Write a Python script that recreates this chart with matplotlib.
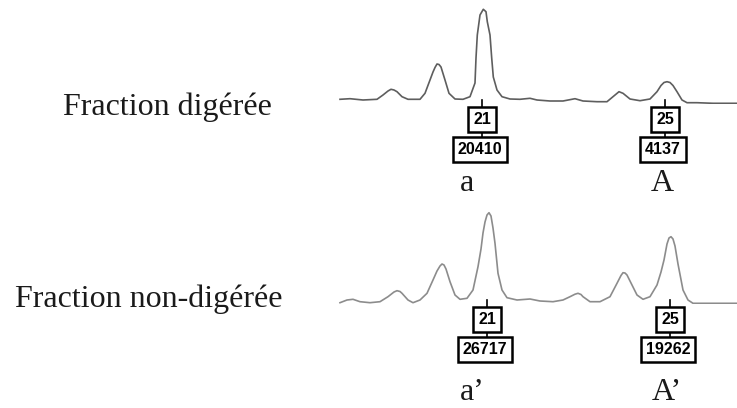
import numpy as np
import matplotlib
matplotlib.use('Agg')
import matplotlib.pyplot as plt

# ------------------------------------------------------------------------------
# Data
# ------------------------------------------------------------------------------
# digested fraction: retention position / signal (arbitrary units)
dig_rt = [340, 350, 363, 377, 383, 388, 391, 394, 397, 402, 408, 420, 425, 430,
          433, 435, 437, 439, 441, 445, 449, 455, 463, 470, 475, 476, 477.3, 480,
          483.3, 486, 487.3, 490, 491.7, 493.3, 497, 502, 510, 520, 530, 537,
          550, 563, 575, 583, 597, 607, 613, 619, 623, 630, 640, 650, 657, 661,
          664, 667, 670, 673, 677, 682, 687, 697, 713, 737]
dig_sig = [4.7, 5.3, 4.0, 4.7, 9.0, 13.0, 14.7, 14.0, 12.3, 7.3, 4.7, 4.7, 10.7, 24.0,
           32.0, 36.5, 40.0, 39.5, 37.0, 24.0, 10.7, 5.0, 4.7, 7.3, 21.0, 46.0, 69.0, 89.0,
           94.7, 92.3, 82.3, 69.0, 46.0, 27.0, 14.0, 7.3, 5.0, 4.7, 5.7, 4.0,
           3.0, 3.0, 5.3, 3.0, 2.3, 2.3, 7.3, 12.3, 10.7, 5.0, 3.3, 5.0, 12.3, 18.5,
           21.5, 22.3, 21.5, 18.5, 12.3, 4.0, 1.3, 1.3, 0.7, 0.7]

# non-digested fraction
nondig_rt = [340, 347, 353, 360, 370, 380, 388, 394, 397, 400, 402, 408, 413, 420,
             427, 433, 437, 440, 442, 444, 446, 450, 455, 460, 467, 473, 478, 481,
             483, 485, 487, 489, 491, 493, 495, 498, 502, 507, 517, 530, 540, 553,
             563, 570, 575, 578, 581, 583, 590, 600, 610, 617, 621, 623, 625, 627,
             632, 637, 643, 650, 657, 661, 664, 667, 669, 671, 673, 675, 678, 683,
             688, 693, 713, 737]
nondig_sig = [1.3, 4.0, 4.7, 2.3, 1.3, 2.3, 7.3, 12.0, 13.3, 12.5, 10.7, 4.0, 1.3, 4.0,
              10.7, 24.0, 33.0, 38.0, 40.0, 39.0, 35.0, 22.3, 9.0, 4.7, 5.7, 14.0, 37.3, 55.0,
              71.0, 82.0, 89.0, 91.3, 88.0, 76.0, 60.7, 30.7, 14.0, 6.3, 4.0, 5.0, 3.0, 2.3,
              4.0, 7.3, 9.8, 10.7, 9.5, 7.3, 2.3, 2.3, 7.3, 20.7, 28.5, 31.3, 31.0, 29.0,
              19.0, 9.0, 4.7, 7.3, 19.0, 32.0, 44.0, 60.0, 66.0, 67.3, 65.0, 58.0, 40.0, 14.0,
              4.0, 0.7, 0.7, 0.7]

# integrated peaks: peak number and area
peak_rt_dig = [482, 665]
peak_rt_nondig = [487, 670]
peak_ids = ['21', '25']
areas_dig = [20410, 4137]
areas_nondig = [26717, 19262]
names_dig = ['a', 'A']
names_nondig = ['a\u2019', 'A\u2019']
fraction_labels = ['Fraction digérée', 'Fraction non-digérée']

# ------------------------------------------------------------------------------
# Figure
# ------------------------------------------------------------------------------
W, H = 737, 408
fig = plt.figure(figsize=(W / 100, H / 100), dpi=100)
fig.patch.set_facecolor('white')

# trace axes (pixel rows 0-104 and 200-304)
ax_top = fig.add_axes([0, 1 - 104 / H, 1, 104 / H])
ax_bot = fig.add_axes([0, 1 - 304 / H, 1, 104 / H])
for ax, rt, sig, col in [(ax_top, dig_rt, dig_sig, '#5e5e5e'),
                         (ax_bot, nondig_rt, nondig_sig, '#8c8c8c')]:
    ax.plot(rt, sig, color=col, linewidth=1.2, solid_joinstyle='round')
    ax.set_xlim(0, W)
    ax.set_ylim(0, 104)
    ax.axis('off')

# overlay for labels, in pixel coordinates
ov = fig.add_axes([0, 0, 1, 1])
ov.set_xlim(0, W)
ov.set_ylim(H, 0)
ov.axis('off')

serif = ['Liberation Serif', 'DejaVu Serif']
ov.text(63, 115, fraction_labels[0], fontsize=23, family=serif, va='baseline', ha='left', color='#1a1a1a')
ov.text(15, 307, fraction_labels[1], fontsize=23, family=serif, va='baseline', ha='left', color='#1a1a1a')

box_kw = dict(boxstyle='square,pad=0.3', facecolor='white', edgecolor='black', linewidth=1.8)


def label_peaks(rts, ids, areas, names, base_y, name_y):
    for rt, pid, area, name in zip(rts, ids, areas, names):
        # stems between trace, id box and area box
        ov.plot([rt, rt], [base_y, base_y + 8], color='black', linewidth=1.2)
        ov.plot([rt, rt], [base_y + 30, base_y + 37], color='black', linewidth=1.2)
        ov.text(rt, base_y + 19.5, pid, fontsize=11.5, family='Liberation Sans',
                fontweight='bold', ha='center', va='center', bbox=box_kw)
        ov.text(rt - 2, base_y + 49.5, str(area), fontsize=11.5, family='Liberation Sans',
                fontweight='bold', ha='center', va='center', bbox=box_kw)
        ov.text(rt - 15 if name.startswith('a') else rt - 3, name_y, name,
                fontsize=23, family=serif, ha='center', va='baseline', color='#1a1a1a')


label_peaks(peak_rt_dig, peak_ids, areas_dig, names_dig, 100, 191)
label_peaks(peak_rt_nondig, peak_ids, areas_nondig, names_nondig, 300, 400)

fig.savefig('out.png', dpi=100)
